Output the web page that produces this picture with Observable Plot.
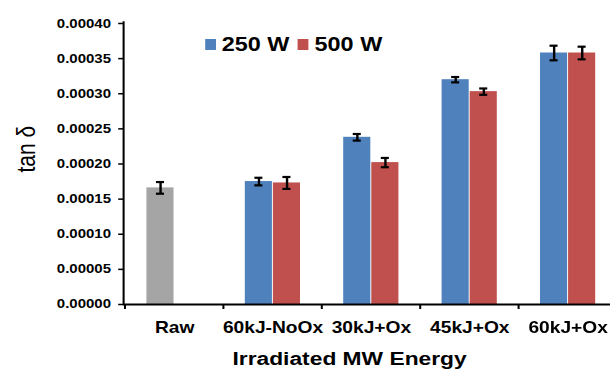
<!DOCTYPE html>
<html>
<head>
<meta charset="utf-8">
<script src="https://cdn.jsdelivr.net/npm/d3@7"></script>
<script src="https://cdn.jsdelivr.net/npm/@observablehq/plot@0.6"></script>
<style>
  html, body { margin: 0; padding: 0; background: #fff; }
  #wrap { position: relative; width: 508.33px; height: 379px; transform: scaleX(1.2); transform-origin: 0 0; }
  #legend { position: absolute; left: 170.8px; top: 27.5px; }
  .lg-swatch { margin-right: 7px !important; }
  .lg-swatch > svg { margin-right: 5px !important; }
</style>
</head>
<body>
<div id="wrap"><div id="chart"></div><div id="legend"></div></div>
<script>
const categories = ["Raw", "60kJ-NoOx", "30kJ+Ox", "45kJ+Ox", "60kJ+Ox"];
const series = ["250 W", "500 W"];
const values250 = [0.000166, 0.000175, 0.000238, 0.000320, 0.000358]; // Raw drawn in grey in the first slot
const values500 = [null, 0.000173, 0.000202, 0.000303, 0.000358];
const errors250 = [0.0000083, 0.0000054, 0.0000047, 0.0000038, 0.0000104];
const errors500 = [null, 0.0000085, 0.0000066, 0.0000045, 0.0000090];
const yTicks = [0, 0.00005, 0.0001, 0.00015, 0.0002, 0.00025, 0.0003, 0.00035, 0.0004];
const colorDomain = ["Raw", "250 W", "500 W"];
const colorRange = ["#A5A5A5", "#4F81BD", "#C0504D"];
const xTitle = "Irradiated MW Energy";
const yTitle = "tan δ";

const rows250 = categories.map((c, i) => ({category: c, group: c === "Raw" ? "Raw" : series[0], value: values250[i], err: errors250[i]}));
const rows500 = categories.map((c, i) => ({category: c, group: series[1], value: values500[i], err: errors500[i]})).filter(d => d.value != null);

const font = "'Liberation Sans', Arial, Helvetica, sans-serif";
const half = 23.4;

const chart = Plot.plot({
  width: 508.33,
  height: 379,
  marginTop: 23,
  marginBottom: 75,
  marginLeft: 102.5,
  marginRight: 0,
  style: {fontFamily: font, color: "#000", background: "#fff", overflow: "visible"},
  x: {domain: categories, range: [102.5, 515.83], paddingInner: 0.434, paddingOuter: 0.217, align: 0.5, axis: null},
  y: {domain: [0, 0.0004], axis: null},
  color: {domain: colorDomain, range: colorRange},
  marks: [
    Plot.barY(rows250, {x: "category", y: "value", fill: "group", insetRight: half}),
    Plot.barY(rows500, {x: "category", y: "value", fill: "group", insetLeft: half}),
    Plot.ruleX(rows250, {x: "category", y1: d => d.value - d.err, y2: d => d.value + d.err, dx: -half / 2, stroke: "#000", strokeWidth: 2}),
    Plot.ruleX(rows500, {x: "category", y1: d => d.value - d.err, y2: d => d.value + d.err, dx: half / 2, stroke: "#000", strokeWidth: 2}),
    Plot.tickY(rows250, {x: "category", y: d => d.value + d.err, insetLeft: 7.95, insetRight: 31.34, stroke: "#000", strokeWidth: 2.2}),
    Plot.tickY(rows250, {x: "category", y: d => d.value - d.err, insetLeft: 7.95, insetRight: 31.34, stroke: "#000", strokeWidth: 2.2}),
    Plot.tickY(rows500, {x: "category", y: d => d.value + d.err, insetLeft: 31.34, insetRight: 7.95, stroke: "#000", strokeWidth: 2.2}),
    Plot.tickY(rows500, {x: "category", y: d => d.value - d.err, insetLeft: 31.34, insetRight: 7.95, stroke: "#000", strokeWidth: 2.2}),
    Plot.frame({anchor: "left", stroke: "#000", strokeWidth: 1.7, insetTop: -1.5}),
    Plot.ruleY([0], {stroke: "#000", strokeWidth: 2}),
    Plot.axisY({ticks: yTicks, tickFormat: d3.format(".5f"), tickSize: 4, tickPadding: 6.5, strokeWidth: 1.5, fontSize: 12.5, fontWeight: "bold", fill: "#000", label: null}),
    Plot.axisX({tickSize: 5, dx: -41.33, tickFormat: () => "", strokeWidth: 1.7, label: null}),
    Plot.axisX({tickSize: 0, tickPadding: 17.5, fontSize: 16, fontWeight: "bold", fill: "#000", label: null}),
    Plot.text([xTitle], {frameAnchor: "bottom", dx: -14.6, dy: 61, fontSize: 19, fontWeight: "bold", fill: "#000"}),
    Plot.text([yTitle], {frameAnchor: "left", rotate: -90, dx: -80.8, dy: 8.5, fontSize: 21, fill: "#000"})
  ]
});
document.getElementById("chart").appendChild(chart);

const legend = Plot.legend({
  color: {domain: series, range: colorRange.slice(1)},
  swatchWidth: 9,
  swatchHeight: 11,
  className: "lg",
  style: {fontFamily: font, fontSize: "19.5px", fontWeight: "bold", color: "#000", background: "transparent", margin: 0}
});
document.getElementById("legend").appendChild(legend);
</script>
</body>
</html>
